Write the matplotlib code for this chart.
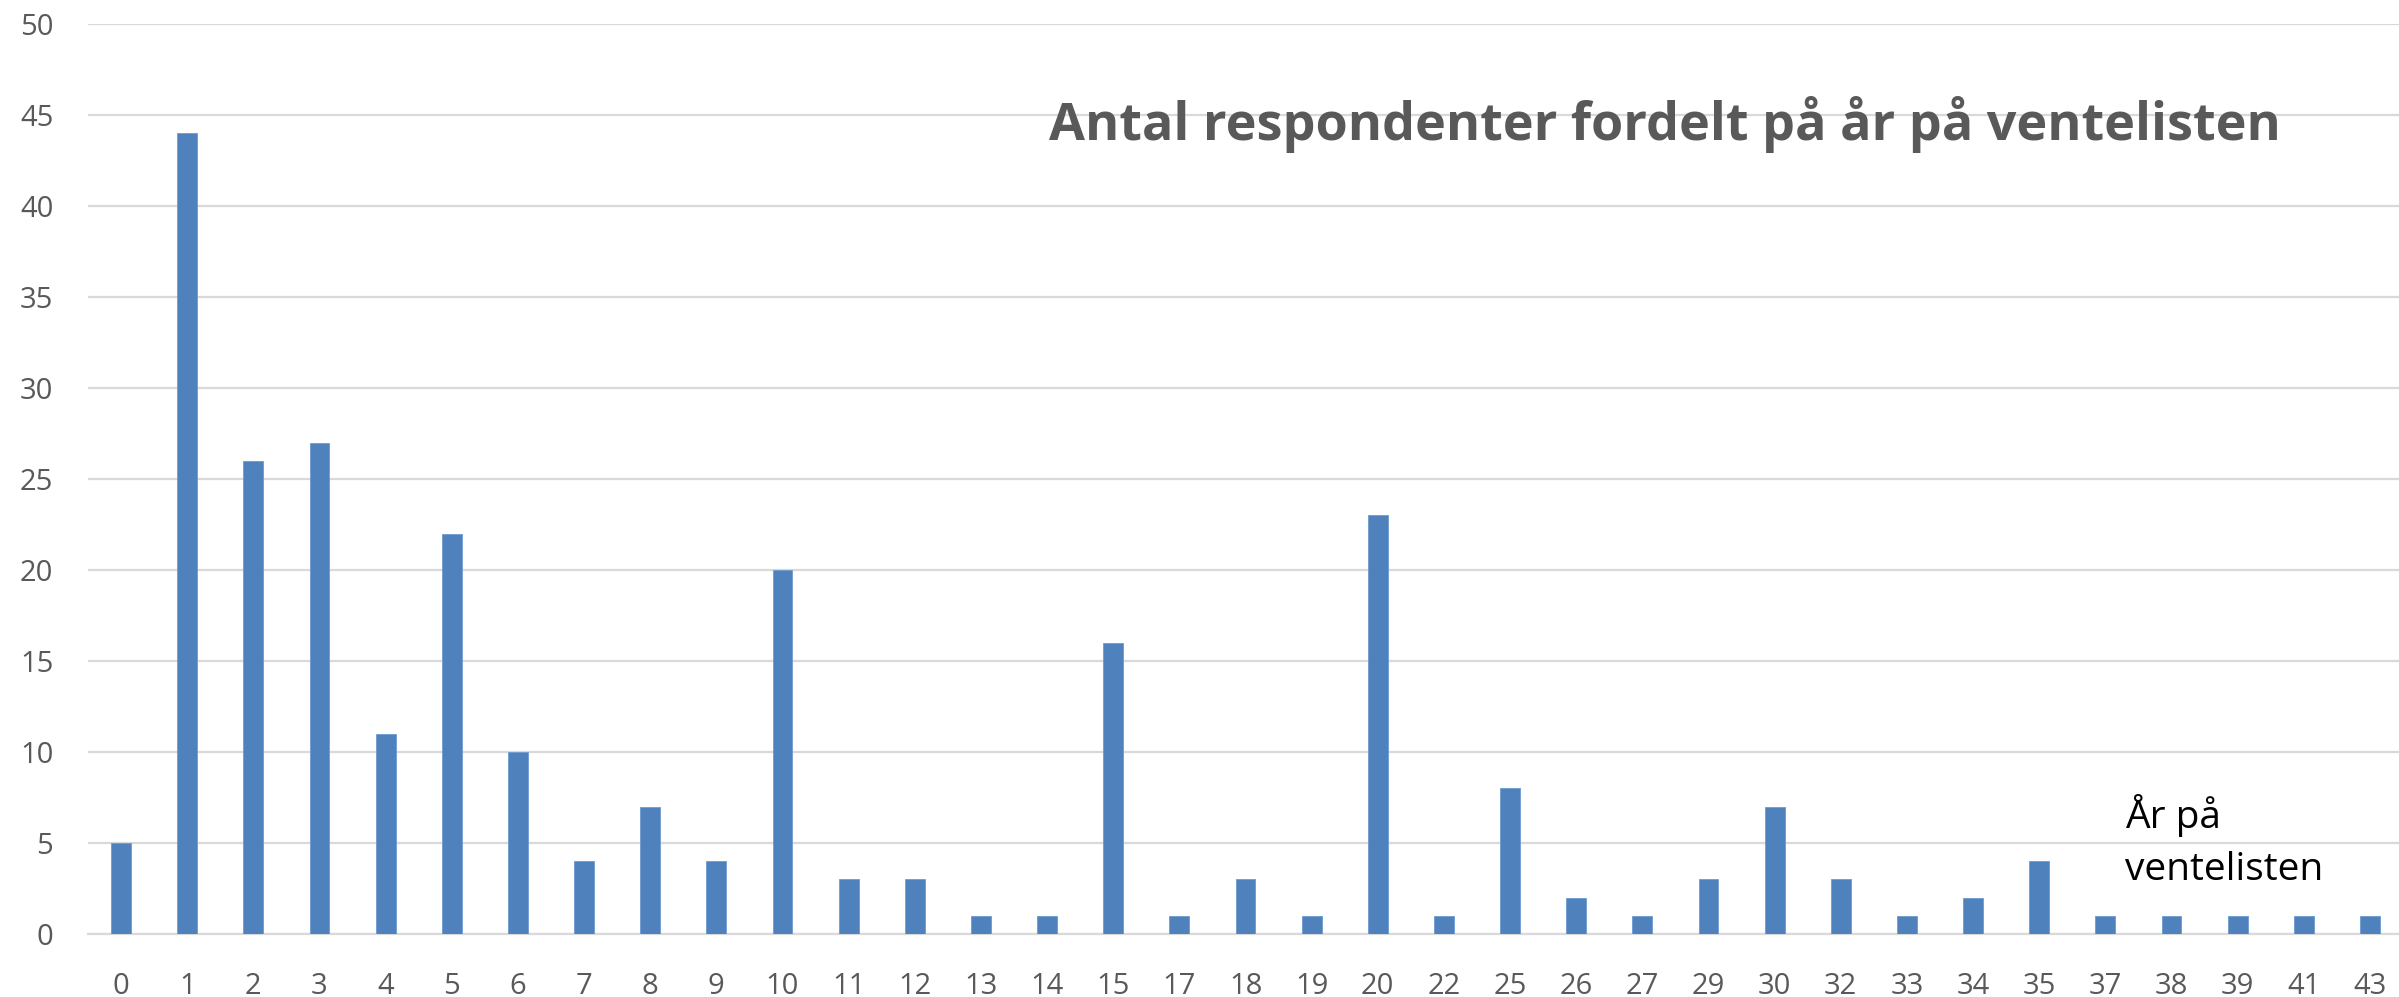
import matplotlib
matplotlib.use("Agg")
import matplotlib.pyplot as plt
import numpy as np

# År på ventelisten -> antal respondenter
years = ["0", "1", "2", "3", "4", "5", "6", "7", "8", "9", "10", "11", "12", "13",
         "14", "15", "17", "18", "19", "20", "22", "25", "26", "27", "29", "30",
         "32", "33", "34", "35", "37", "38", "39", "41", "43"]
counts = [5, 44, 26, 27, 11, 22, 10, 4, 7, 4, 20, 3, 3, 1,
          1, 16, 1, 3, 1, 23, 1, 8, 2, 1, 3, 7,
          3, 1, 2, 4, 1, 1, 1, 1, 1]
y_ticks = [0, 5, 10, 15, 20, 25, 30, 35, 40, 45, 50]

BAR = "#4F81BD"
GRID = "#D9D9D9"
TXT = "#595959"

W, H = 2399, 997
fig = plt.figure(figsize=(W / 100, H / 100), dpi=100)
fig.patch.set_facecolor("white")

# plot area: left 88px, right ~2403px, zero line at y=934, 50 at y=24
ax = fig.add_axes([88 / W, (H - 934) / H, (2403 - 88) / W, (934 - 24) / H])
ax.set_facecolor("white")

x = np.arange(len(years))
ax.bar(x, counts, width=0.3, color=BAR, edgecolor="#6f9bd1", linewidth=0.6, zorder=3)

ax.set_xlim(-0.5, len(years) - 0.5)
ax.set_ylim(0, 50)
ax.set_yticks(y_ticks)
ax.set_xticks(x)
ax.set_xticklabels(years)

ax.grid(True, axis="y", color=GRID, linewidth=1.6, zorder=0)
ax.set_axisbelow(True)
for s in ["top", "right", "left"]:
    ax.spines[s].set_visible(False)
ax.spines["bottom"].set_color(GRID)
ax.spines["bottom"].set_linewidth(1.6)

ax.tick_params(axis="both", length=0, labelcolor=TXT, labelsize=21)
ax.tick_params(axis="y", pad=25)
ax.tick_params(axis="x", pad=27)
for lbl in ax.get_xticklabels() + ax.get_yticklabels():
    lbl.set_fontfamily("Open Sans")

ax.text(0.415, 0.8725, "Antal respondenter fordelt på år på ventelisten",
        transform=ax.transAxes, fontsize=37.5, fontweight="bold", color=TXT,
        fontfamily="Open Sans", ha="left", va="baseline")

# akse-titel, to linjer
ax.text(0.88, 0.1165, "År på", transform=ax.transAxes, fontsize=28,
        color="black", fontfamily="Open Sans", ha="left", va="baseline")
ax.text(0.88, 0.0593, "ventelisten", transform=ax.transAxes, fontsize=28,
        color="black", fontfamily="Open Sans", ha="left", va="baseline")

fig.savefig("out.png", dpi=100, facecolor="white")
